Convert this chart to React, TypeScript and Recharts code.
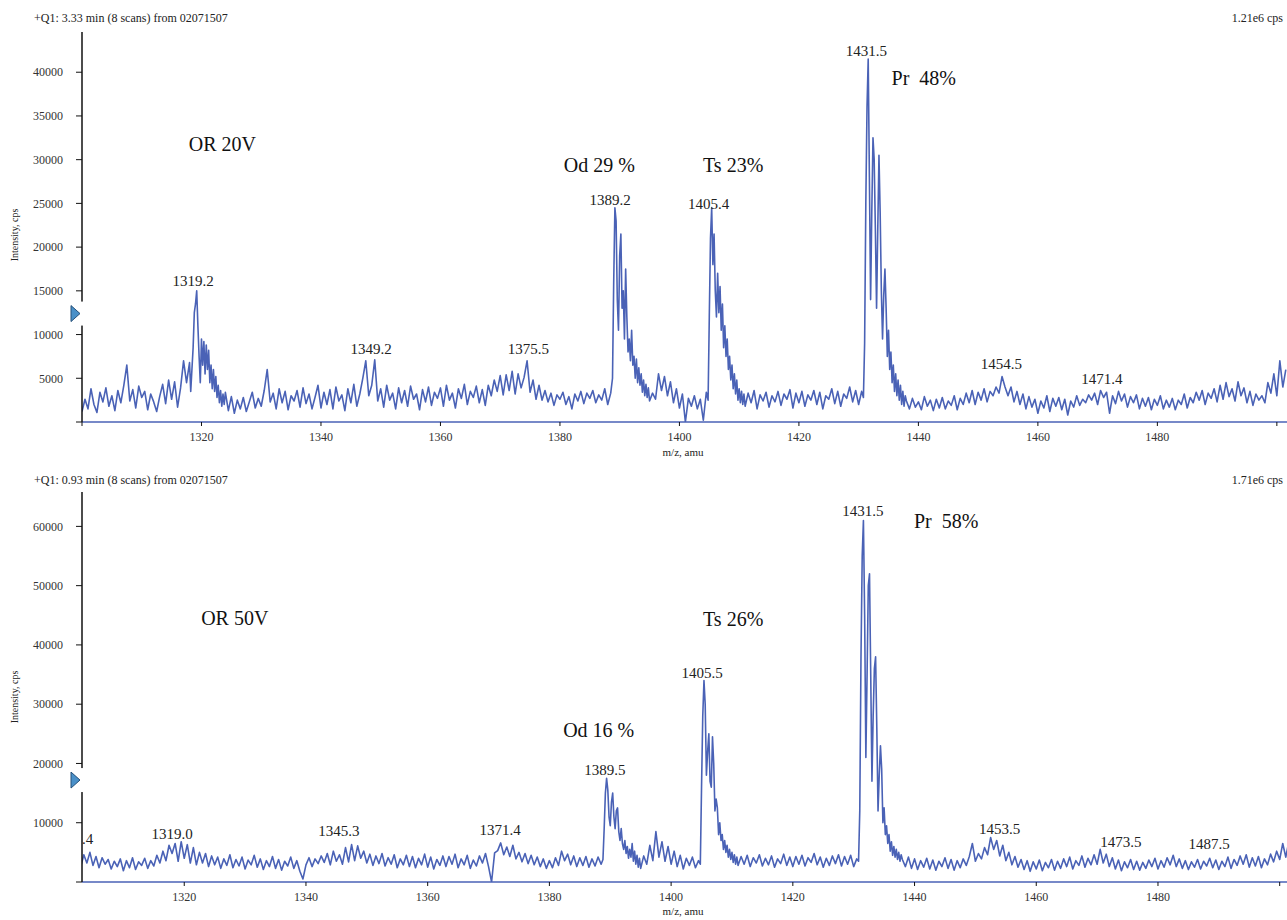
import React from 'react'
import { LineChart, Line, XAxis, YAxis, ReferenceDot } from 'recharts'

// ---- sampled spectra, one segment per stretch of m/z (start, step, intensities in cps) ----
type Seg = { start: number; step: number; values: number[] }

const top1300 = [1200, 2600, 1500, 3800, 2000, 1100, 3400, 2300, 3900, 1800, 3000, 1300, 3600, 2200, 4200, 6500, 2400, 3700, 1600, 4100, 2800, 3500, 1400, 3200, 2300, 1200, 2900, 4300, 2100, 4800, 2600, 4600, 1700, 3900, 7000, 4500]
const top1318 = [6800, 3500, 6000, 8500, 12500, 13500, 15000, 11000, 7500, 4500, 9500, 6500, 9200, 5500, 8800, 6000, 8200, 4500, 6500, 3800, 6000, 3500, 5200, 2800, 4200, 2200, 3600, 1800, 3200, 2000]
const top1324 = [
  3400, 1300, 2900, 1000, 2500, 1500, 2800, 1200, 2300, 3400, 1600, 2700,
  1800, 3600, 6000, 2300, 3300, 1500, 3800, 2200, 3500, 1400, 3000, 2400,
  3600, 1700, 3900, 2100, 3200, 1500, 2800, 4200, 1600, 3400, 2000, 3700,
  1500, 4000, 2400, 3100, 1300, 3800, 2200, 4300, 1800, 3200, 5000, 7000,
  3000, 4200, 7100, 2400, 3800, 1700, 4200, 2500, 3300, 1500, 3900, 2200,
  3600, 1800, 4100, 2600, 3200, 1400, 3700, 2300, 4000, 1900, 3400, 2700,
  3900, 1800, 4200, 2500, 3300, 1600, 3800, 2700, 4300, 2000, 3500, 2800,
  4100, 2200, 3700, 1900, 4200, 3000, 4800, 3500, 5300, 3100, 5400, 3600,
  5800, 3200, 5500, 3900, 5100, 7000, 3400, 4800, 2600, 4200, 2500, 3600,
  2300, 3300, 1900, 3100, 2600, 3400, 2000, 2900, 1500, 3200, 2400, 3500,
  2100, 3300, 2700, 3600, 2200, 3100, 2500, 3800, 2000, 3300,
]
const top1388 = [5000, 16000, 24500, 23000, 14000, 10500, 19000, 21500, 13000, 15000, 9500, 17500, 12000, 8000, 9500, 7000, 10500, 6500, 7500, 5000, 7200, 4500, 6200, 4200, 5500, 3400, 4800, 3000, 4300, 2800, 3900]
const top1395 = [2400, 3300, 2600, 5500, 3600, 5200, 3000, 4600, 2200, 3800, 1600, 3200, 0, 2700, 1800, 3000, 1500, 2600, 200, 3400]
const top1404 = [2500, 12000, 21000, 24500, 18000, 21500, 15000, 12000, 17000, 12500, 15500, 10500, 13500, 8500, 11000, 7500, 9500, 6000, 7500, 4800, 6500, 3800, 5500, 3200, 4800, 2500, 3800, 2200, 3500, 2000, 3200]
const top1411 = [
  1800, 3300, 2200, 3600, 1500, 3100, 2400, 3400, 1700, 3000,
  2300, 3500, 1900, 3200, 2600, 3700, 1600, 3300, 2200, 3500,
  1800, 3100, 2500, 3600, 2000, 3400, 1500, 3000, 2600, 3800,
  2100, 3500, 1800, 3200, 2700, 4000, 2300, 3600, 2000, 3500,
]
const top1430 = [2800, 9000, 25000, 36000, 41500, 28000, 14000, 24000, 32500, 30000, 22000, 13000, 22000, 30500, 24000, 15000, 9500, 14500, 17500, 13000, 7500, 10500, 6000, 8000, 4500, 6500, 3500, 5500, 3000, 4800, 2500, 4200, 2000, 3500, 1800, 3000]
const top1438 = [
  2400, 1500, 2700, 1700, 2300, 1400, 2900, 1800, 2500, 1300,
  2600, 1600, 2800, 1500, 2400, 1900, 3000, 1400, 2700, 2000,
  3300, 2200, 3600, 2000, 3400, 2500, 3800, 2300, 3500, 3000,
  4000, 3300, 5200, 4000, 3000, 4000, 2300, 3500, 2000, 3200,
  1500, 2900, 1700, 2600, 1000, 2400, 1600, 3000, 1200, 2700,
  1800, 2800, 1400, 2600, 800, 2400, 1700, 3000, 1900, 2600,
  2200, 3100, 2500, 3300, 2000, 3600, 2800, 3400, 1000, 3000,
  2100, 3500, 2400, 3200, 1700, 2900, 2200, 3100, 1500, 2700,
  1800, 2800, 1400, 2600, 1900, 3000, 1500, 2500, 1700, 2700,
  1400, 2500, 2000, 3200, 1600, 2800, 2200, 3400, 2500, 3600,
  2000, 3300, 2700, 3800, 2300, 4200, 2600, 4500, 2900, 3800,
  2400, 4600, 3000, 3900, 2200, 3500, 1900, 3200, 2500, 3000,
  2200, 4500, 3300, 5500, 3000, 7000, 4000, 6000,
]

const bot1303 = [
  2600, 4600, 3200, 5000, 2800, 4300, 2400, 4100, 3000, 3800,
  2200, 3500, 2600, 3900, 1900, 3600, 2400, 4100, 2100, 3400,
  2800, 4000, 2300, 3600, 2700, 4500, 3200, 5200, 3600, 6200,
]
const bot1318 = [4800, 6500, 3500, 6800, 4000, 6300, 3200, 5800, 2900, 5000]
const bot1323 = [
  3200, 4800, 2600, 4400, 2900, 4200, 2300, 3900, 2800, 4600,
  2400, 3800, 2700, 4200, 2200, 3700, 2900, 4500, 2500, 3900,
  2100, 3600, 2600, 4300, 2300, 3800, 2000, 3500, 2700, 4200,
  2300, 3600, 1800, 500, 2900, 4100, 2600, 3900, 3100, 4400,
  3300, 4800, 2900, 5200, 3500, 4600, 3000, 5800, 3400, 6300,
  3600, 6100, 4000, 5200, 3200, 4700, 2800, 4400, 3100, 4800,
  2700, 4100, 3000, 4600, 2400, 3900, 2900, 4500, 2600, 4300,
  2400, 4000, 2900, 4700, 2500, 4200, 2200, 3800, 2800, 4400,
  2600, 4300, 3000, 4700, 2400, 3900, 2900, 4500, 2300, 3700,
  2700, 4400, 3200, 4800, 2600, 0, 4900, 5300, 6600, 4600,
  5900, 4300, 6200, 3900, 5000, 3400, 4800, 3100, 4500, 2900,
  4200, 2600, 3900, 2300, 3600, 2400, 4100, 2800, 5200, 3600,
  4700, 2900, 4400, 2600, 4100, 2800, 4300, 2500, 3900, 2700,
  4200, 3000,
]
const bot1388 = [3800, 9000, 15000, 17500, 15500, 11000, 9500, 13500, 15000, 11000, 9000, 12000, 12500, 8500, 7000, 9000, 6500, 5500, 7000, 4800, 6000, 4000, 5500, 4200, 6500, 3500, 5200, 3000, 4500, 2500, 4000]
const bot1395 = [2300, 4400, 3000, 6200, 3600, 8500, 4200, 6800, 3500, 6000, 3000, 5200, 2600, 4500, 2200, 4000, 2800, 4200, 2400, 3600]
const bot1404 = [3000, 16000, 28000, 34000, 30000, 18000, 22000, 25000, 17000, 16000, 24500, 20000, 12000, 14000, 12500, 8000, 10000, 7000, 8000, 5500, 7000, 5000, 6200, 4200, 5500, 3800, 5000, 3300, 4600, 3000, 4200]
const bot1411 = [
  2800, 4300, 3000, 4500, 2600, 4100, 3200, 4600, 2700, 4000,
  2900, 4400, 2500, 3900, 3100, 4700, 2800, 4200, 2600, 4300,
  3000, 4500, 2700, 4100, 3300, 4800, 2900, 4200, 2500, 4000,
  2800, 4400, 3100, 4600, 2700, 4300, 3000, 4500, 2600, 3900,
]
const bot1430 = [3500, 12000, 38000, 55000, 61000, 45000, 21000, 35000, 50000, 52000, 35000, 17000, 28000, 36000, 38000, 26000, 12000, 18000, 23000, 19000, 10000, 12500, 8000, 9500, 6500, 8000, 5200, 6800, 4500, 6000, 4200, 5500, 3800, 5000, 3500, 4600]
const bot1438 = [
  3800, 2600, 4200, 2300, 3900, 2100, 3600, 2500, 4000, 2200,
  3700, 2000, 3500, 2600, 4100, 2300, 3800, 2000, 3600, 2400,
  3900, 2800, 4300, 6500, 3500, 4800, 3900, 5800, 4600, 7500,
  5500, 7000, 4400, 6200, 3600, 5000, 2900, 4300, 2500, 3800,
  2100, 3600, 1800, 3400, 2200, 3700, 1900, 3300, 2400, 3800,
  2000, 3500, 2300, 3900, 2600, 4200, 2200, 3600, 2800, 4400,
  2500, 4000, 2900, 4600, 3000, 5500, 3200, 4700, 2600, 4100,
  2200, 3700, 1900, 3400, 2400, 3800, 2100, 3500, 2000, 3300,
  2300, 3700, 2600, 4000, 2200, 3600, 2500, 4100, 2900, 4500,
  2600, 3900, 2300, 3600, 2100, 3400, 2500, 3800, 2200, 3500,
  2700, 4000, 2400, 3700, 2100, 3500, 2600, 4200, 2300, 3800,
  2800, 4400, 3000, 4600, 2500, 4100, 2700, 4300, 2400, 3900,
  2900, 4700, 3400, 5200, 3800, 6500, 4200, 6800,
]

const topSegs: Seg[] = [
  { start: 1300, step: 0.5, values: top1300 },
  { start: 1318, step: 0.2, values: top1318 },
  { start: 1324, step: 0.5, values: top1324 },
  { start: 1388.8, step: 0.2, values: top1388 },
  { start: 1395, step: 0.5, values: top1395 },
  { start: 1404.8, step: 0.2, values: top1404 },
  { start: 1411, step: 0.5, values: top1411 },
  { start: 1430.8, step: 0.2, values: top1430 },
  { start: 1438, step: 0.5, values: top1438 },
]
const botSegs: Seg[] = [
  { start: 1303, step: 0.5, values: bot1303 },
  { start: 1318, step: 0.5, values: bot1318 },
  { start: 1323, step: 0.5, values: bot1323 },
  { start: 1388.8, step: 0.2, values: bot1388 },
  { start: 1395, step: 0.5, values: bot1395 },
  { start: 1404.8, step: 0.2, values: bot1404 },
  { start: 1411, step: 0.5, values: bot1411 },
  { start: 1430.8, step: 0.2, values: bot1430 },
  { start: 1438, step: 0.5, values: bot1438 },
]

// peak and species labels, anchored in data coordinates (mz, cps)
const topPeakLabels = [
  { mz: 1318.6, y: 15500, text: '1319.2' },
  { mz: 1348.4, y: 7800, text: '1349.2' },
  { mz: 1374.7, y: 7800, text: '1375.5' },
  { mz: 1388.4, y: 24800, text: '1389.2' },
  { mz: 1404.9, y: 24400, text: '1405.4' },
  { mz: 1431.3, y: 41900, text: '1431.5' },
  { mz: 1453.9, y: 6100, text: '1454.5' },
  { mz: 1470.7, y: 4400, text: '1471.4' },
]
const topSpeciesLabels = [
  { mz: 1323.5, y: 31000, text: 'OR 20V' },
  { mz: 1386.6, y: 28600, text: 'Od 29 %' },
  { mz: 1409.0, y: 28600, text: 'Ts 23%' },
  { mz: 1440.9, y: 38500, text: 'Pr  48%' },
]
const botPeakLabels = [
  { mz: 1318.0, y: 7250, text: '1319.0' },
  { mz: 1345.4, y: 7760, text: '1345.3' },
  { mz: 1371.9, y: 7920, text: '1371.4' },
  { mz: 1389.1, y: 18000, text: '1389.5' },
  { mz: 1405.1, y: 34500, text: '1405.5' },
  { mz: 1431.5, y: 61700, text: '1431.5' },
  { mz: 1454.0, y: 8100, text: '1453.5' },
  { mz: 1473.9, y: 5900, text: '1473.5' },
  { mz: 1488.4, y: 5560, text: '1487.5' },
]
const botSpeciesLabels = [
  { mz: 1328.3, y: 43300, text: 'OR 50V' },
  { mz: 1388.1, y: 24450, text: 'Od 16 %' },
  { mz: 1410.2, y: 43200, text: 'Ts 26%' },
  { mz: 1445.2, y: 59700, text: 'Pr  58%' },
]

const topTicksY = [0, 5000, 10000, 15000, 20000, 25000, 30000, 35000, 40000]
const botTicksY = [0, 10000, 20000, 30000, 40000, 50000, 60000]
const topTicksX = [1300, 1320, 1340, 1360, 1380, 1400, 1420, 1440, 1460, 1480, 1500]
const botTicksX = [1320, 1340, 1360, 1380, 1400, 1420, 1440, 1460, 1480, 1500]

const toPoints = (segs: Seg[]) =>
  segs.flatMap((s) => s.values.map((v, i) => ({ mz: +(s.start + i * s.step).toFixed(2), intensity: v })))

const BLUE = '#4a62b6'
const SERIF = '"Liberation Serif", "DejaVu Serif", serif'

interface SpectrumProps {
  data: { mz: number; intensity: number }[]
  xDomain: [number, number]
  yDomain: [number, number]
  ticksX: number[]
  ticksY: number[]
  peakLabels: { mz: number; y: number; text: string }[]
  speciesLabels: { mz: number; y: number; text: string }[]
  markerY: number
  clippedLabel?: { mz: number; y: number; text: string }
}

function Spectrum({ data, xDomain, yDomain, ticksX, ticksY, peakLabels, speciesLabels, markerY, clippedLabel }: SpectrumProps) {
  return (
    <LineChart width={1287} height={460} data={data} margin={{ top: 32, right: 0, bottom: 8, left: 0 }}>
      <XAxis
        dataKey="mz"
        type="number"
        domain={xDomain}
        allowDataOverflow
        ticks={ticksX}
        interval={0}
        height={30}
        tickSize={4}
        tickMargin={6}
        axisLine={{ stroke: BLUE, strokeWidth: 1.5 }}
        tickLine={{ stroke: '#111' }}
        tick={{ fontSize: 12, fill: '#333', fontFamily: SERIF }}
        tickFormatter={(v: number) => (v === 1300 || v === 1500 ? '' : String(v))}
      />
      <YAxis
        type="number"
        domain={yDomain}
        allowDataOverflow
        ticks={ticksY}
        interval={0}
        width={82}
        tickSize={6}
        tickMargin={13}
        axisLine={{ stroke: '#111', strokeWidth: 1.5 }}
        tickLine={{ stroke: '#111' }}
        tick={{ fontSize: 12, fill: '#333', fontFamily: SERIF }}
        tickFormatter={(v: number) => (v === 0 ? '' : String(v))}
      />
      <Line
        dataKey="intensity"
        type="linear"
        dot={false}
        stroke={BLUE}
        strokeWidth={1.6}
        strokeLinejoin="round"
        isAnimationActive={false}
      />
      <ReferenceDot
        x={xDomain[0]}
        y={markerY}
        ifOverflow="visible"
        shape={(p: any) => (
          <g>
            <rect x={p.cx - 3} y={p.cy - 12} width={6} height={24} fill="#fff" />
            <polygon
              points={`${p.cx - 11},${p.cy - 8} ${p.cx - 11},${p.cy + 8} ${p.cx - 2},${p.cy}`}
              fill="#4a90c8"
              stroke="#24507a"
              strokeWidth={1}
            />
          </g>
        )}
      />
      {peakLabels.map((l) => (
        <ReferenceDot
          key={l.text + l.mz}
          x={l.mz}
          y={l.y}
          ifOverflow="visible"
          shape={(p: any) => (
            <text x={p.cx} y={p.cy} textAnchor="middle" fontSize={15} fontFamily={SERIF} fill="#222">
              {l.text}
            </text>
          )}
        />
      ))}
      {speciesLabels.map((l) => (
        <ReferenceDot
          key={l.text}
          x={l.mz}
          y={l.y}
          ifOverflow="visible"
          shape={(p: any) => (
            <text x={p.cx} y={p.cy} textAnchor="middle" fontSize={20} fontFamily={SERIF} fill="#111" style={{ whiteSpace: 'pre' }}>
              {l.text}
            </text>
          )}
        />
      ))}
      {clippedLabel && (
        <ReferenceDot
          x={clippedLabel.mz}
          y={clippedLabel.y}
          ifOverflow="visible"
          shape={(p: any) => (
            <text x={p.cx} y={p.cy} textAnchor="start" fontSize={15} fontFamily={SERIF} fill="#222">
              {clippedLabel.text}
            </text>
          )}
        />
      )}
    </LineChart>
  )
}

export default function App() {
  const topData = toPoints(topSegs)
  const botData = toPoints(botSegs)
  const small = { fontFamily: SERIF, fill: '#222' }
  return (
    <div style={{ position: 'absolute', left: 0, top: 0, width: 1287, height: 920, background: '#fff', overflow: 'hidden' }}>
      <div style={{ position: 'absolute', left: 0, top: 0 }}>
        <Spectrum
          data={topData}
          xDomain={[1300, 1501.7]}
          yDomain={[0, 44600]}
          ticksX={topTicksX}
          ticksY={topTicksY}
          peakLabels={topPeakLabels}
          speciesLabels={topSpeciesLabels}
          markerY={12400}
        />
      </div>
      <div style={{ position: 'absolute', left: 0, top: 460 }}>
        <Spectrum
          data={botData}
          xDomain={[1303.2, 1501.2]}
          yDomain={[0, 65800]}
          ticksX={botTicksX}
          ticksY={botTicksY}
          peakLabels={botPeakLabels}
          speciesLabels={botSpeciesLabels}
          markerY={17200}
          clippedLabel={{ mz: 1303.2, y: 6400, text: '.4' }}
        />
      </div>
      <svg width={1287} height={920} style={{ position: 'absolute', left: 0, top: 0, pointerEvents: 'none' }}>
        <text x={34} y={22} fontSize={12} {...small}>+Q1: 3.33 min (8 scans) from 02071507</text>
        <text x={1283} y={22} fontSize={12} textAnchor="end" {...small}>1.21e6 cps</text>
        <text x={34} y={484} fontSize={12} {...small}>+Q1: 0.93 min (8 scans) from 02071507</text>
        <text x={1283} y={484} fontSize={12} textAnchor="end" {...small}>1.71e6 cps</text>
        <text x={683} y={456} fontSize={11} textAnchor="middle" {...small}>m/z, amu</text>
        <text x={683} y={915} fontSize={11} textAnchor="middle" {...small}>m/z, amu</text>
        <text x={18} y={235} fontSize={10} textAnchor="middle" transform="rotate(-90 18 235)" {...small}>Intensity, cps</text>
        <text x={18} y={697} fontSize={10} textAnchor="middle" transform="rotate(-90 18 697)" {...small}>Intensity, cps</text>
      </svg>
    </div>
  )
}
